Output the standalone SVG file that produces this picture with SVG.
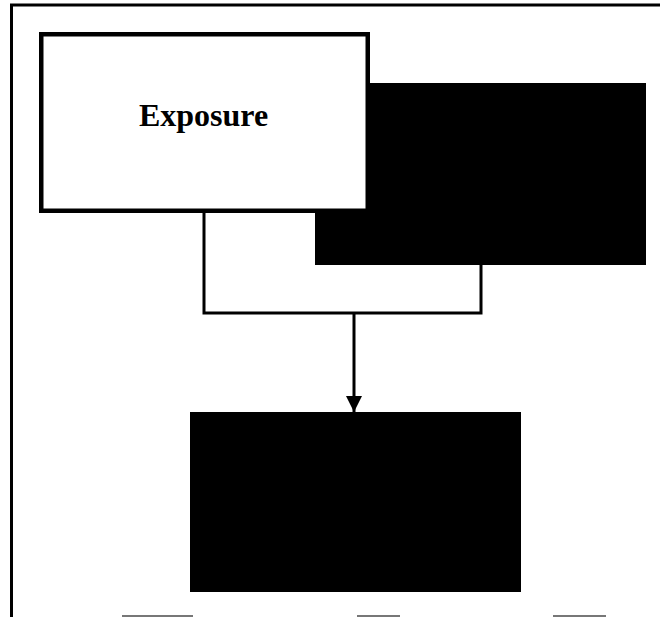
<svg xmlns="http://www.w3.org/2000/svg" width="660" height="617" viewBox="0 0 660 617">
<style>
.frame{fill:none;stroke:#000;stroke-width:3}
.box{fill:#fff;stroke:#000;stroke-width:4.5}
.solid{fill:#000;stroke:none}
.conn{fill:none;stroke:#000;stroke-width:3}
.frag{stroke:#777;stroke-width:2}
.lbl{font-family:"Liberation Serif","Times New Roman",serif;font-weight:bold;font-size:32px;fill:#000}
</style>
<defs>
<marker id="arr" markerUnits="userSpaceOnUse" markerWidth="16" markerHeight="16" refX="16" refY="8" orient="auto">
<path d="M0,0 L16,8 L0,16 Z" fill="#000"/>
</marker>
</defs>
<rect width="660" height="617" fill="#fff"/>
<g id="frame">
<path class="frame" d="M11.5,617 V5 H660"/>
</g>
<g id="connectors">
<path class="conn" d="M204,212 V313 H481 V264"/>
<path class="conn" d="M354,313 V412" marker-end="url(#arr)"/>
</g>
<g id="node-2">
<rect class="solid" x="315" y="83" width="331" height="182"/>
</g>
<g id="node-exposure">
<rect class="box" x="41.25" y="34.25" width="326.5" height="176.5"/>
<text class="lbl" x="203.5" y="126" text-anchor="middle">Exposure</text>
</g>
<g id="node-3">
<rect class="solid" x="190" y="412" width="331" height="180"/>
</g>
<g id="fragments">
<line class="frag" x1="122" y1="616" x2="193" y2="616"/>
<line class="frag" x1="357" y1="616" x2="400" y2="616"/>
<line class="frag" x1="553" y1="616" x2="606" y2="616"/>
</g>
</svg>
